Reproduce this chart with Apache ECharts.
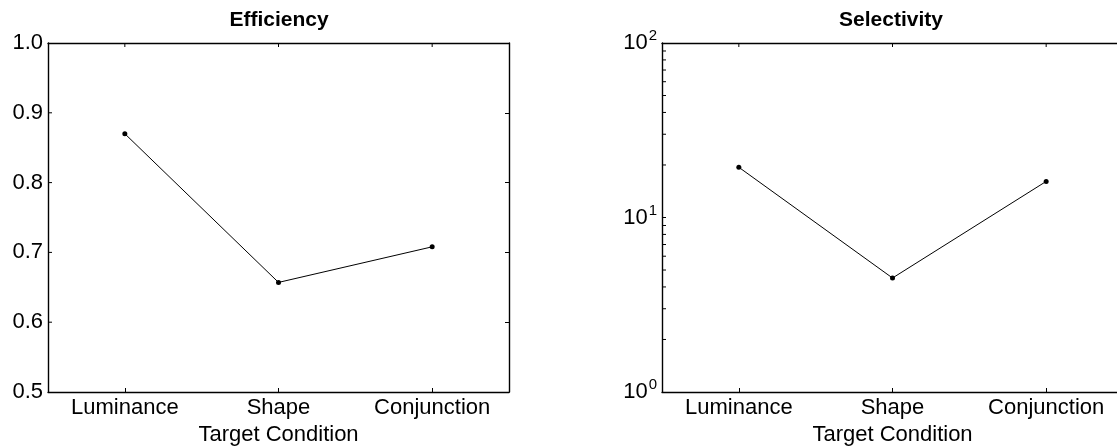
<!DOCTYPE html>
<html>
<head>
<meta charset="utf-8">
<script src="https://cdn.jsdelivr.net/npm/echarts@6/dist/echarts.min.js"></script>
<style>
  html, body { margin: 0; padding: 0; background: #fff; }
  #chart { width: 1117px; height: 448px; }
</style>
</head>
<body>
<div id="chart"></div>
<script>
// Target conditions shared by both panels
const conditions = ['Luminance', 'Shape', 'Conjunction'];
// Search efficiency per condition
const efficiency = [0.870, 0.657, 0.708];
// Selectivity per condition (log scale)
const selectivity = [19.4, 4.5, 16.1];
// Efficiency axis range and tick values
const effMin = 0.5, effMax = 1.0, effStep = 0.1;
const effTicks = [0.6, 0.7, 0.8, 0.9];
// Selectivity axis range and all tick positions (decades plus minor ticks)
const selMin = 1, selMax = 100;
const selTicks = [2, 3, 4, 5, 6, 7, 8, 9, 10, 20, 30, 40, 50, 60, 70, 80, 90];

const FONT = '"Liberation Sans", Arial, sans-serif';
const ink = '#000';
const frame = { color: ink, width: 1.4 };
const tickStyle = { color: ink, width: 1 };
const LABEL_SIZE = 22;
const TICK = 4;

const chart = echarts.init(document.getElementById('chart'), null, { renderer: 'canvas' });

function catAxis(gridIndex, pos, withLabels) {
  return {
    type: 'category', gridIndex, position: pos, data: conditions,
    boundaryGap: true,
    axisLine: { show: true, onZero: false, lineStyle: frame },
    axisTick: { show: pos === 'bottom', inside: true, length: TICK, alignWithLabel: true, lineStyle: tickStyle },
    axisLabel: { show: withLabels, color: ink, fontFamily: FONT, fontSize: LABEL_SIZE, margin: 5 },
    splitLine: { show: false },
    name: withLabels ? 'Target Condition' : '',
    nameLocation: 'middle', nameGap: 29,
    nameTextStyle: { color: ink, fontFamily: FONT, fontSize: LABEL_SIZE }
  };
}

function logAxis(pos, withLabels) {
  return {
    type: 'log', logBase: 10, gridIndex: 1, position: pos, min: selMin, max: selMax,
    axisLine: { show: true, onZero: false, lineStyle: frame },
    axisTick: { show: pos === 'right', inside: true, length: TICK, lineStyle: tickStyle, customValues: selTicks },
    axisLabel: withLabels ? {
      color: ink, fontFamily: FONT, fontSize: LABEL_SIZE, margin: 5,
      formatter: v => '10{sup|' + Math.round(Math.log10(v)) + '}',
      rich: { sup: { fontFamily: FONT, fontSize: 15, color: ink, padding: [0, 0, 14, 1] } }
    } : { show: false },
    splitLine: { show: false }
  };
}

function effAxis(pos, withLabels) {
  return {
    type: 'value', gridIndex: 0, position: pos, min: effMin, max: effMax, interval: effStep,
    axisLine: { show: true, onZero: false, lineStyle: frame },
    axisTick: { show: pos === 'right', inside: true, length: TICK, lineStyle: tickStyle },
    axisLabel: withLabels ? { color: ink, fontFamily: FONT, fontSize: LABEL_SIZE, margin: 5,
      formatter: v => v.toFixed(1) } : { show: false },
    splitLine: { show: false }
  };
}

// Inward ticks along the left edge of a panel, placed through the y scale
function leftTickSeries(xIdx, yIdx, values) {
  return {
    type: 'custom', xAxisIndex: xIdx, yAxisIndex: yIdx, silent: true, clip: false, z: 5,
    data: values.map(v => [0, v]),
    renderItem(params, api) {
      const y = api.coord([0, api.value(1)])[1];
      const x = params.coordSys.x;
      return { type: 'line', shape: { x1: x, y1: y, x2: x + TICK, y2: y },
        style: { stroke: ink, lineWidth: 1 } };
    }
  };
}

// Inward ticks along the top edge of a panel, placed through the category scale
function topTickSeries(xIdx, yIdx, yTop) {
  return {
    type: 'custom', xAxisIndex: xIdx, yAxisIndex: yIdx, silent: true, clip: false, z: 5,
    data: conditions.map((c, i) => [i, yTop]),
    renderItem(params, api) {
      const x = api.coord([api.value(0), api.value(1)])[0];
      const y = params.coordSys.y;
      return { type: 'line', shape: { x1: x, y1: y, x2: x, y2: y + TICK },
        style: { stroke: ink, lineWidth: 1 } };
    }
  };
}

const option = {
  animation: false,
  backgroundColor: '#fff',
  title: [
    { text: 'Efficiency', left: 274, top: 5, textAlign: 'center',
      textStyle: { fontFamily: FONT, fontSize: 21, fontWeight: 'bold', color: ink } },
    { text: 'Selectivity', left: 886, top: 5, textAlign: 'center',
      textStyle: { fontFamily: FONT, fontSize: 21, fontWeight: 'bold', color: ink } }
  ],
  grid: [
    { left: 48, right: 608, top: 43, bottom: 56, containLabel: false, outerBoundsMode: 'none' },
    { left: 662, right: -6, top: 43, bottom: 56, containLabel: false, outerBoundsMode: 'none' }
  ],
  xAxis: [
    catAxis(0, 'bottom', true),
    catAxis(0, 'top', false),
    catAxis(1, 'bottom', true),
    catAxis(1, 'top', false)
  ],
  yAxis: [
    effAxis('left', true),
    effAxis('right', false),
    logAxis('left', true),
    logAxis('right', false)
  ],
  series: [
    { type: 'line', xAxisIndex: 0, yAxisIndex: 0, data: efficiency,
      symbol: 'circle', symbolSize: 5, itemStyle: { color: ink },
      lineStyle: { color: ink, width: 1 }, silent: true },
    { type: 'line', xAxisIndex: 2, yAxisIndex: 2, data: selectivity,
      symbol: 'circle', symbolSize: 5, itemStyle: { color: ink },
      lineStyle: { color: ink, width: 1 }, silent: true },
    leftTickSeries(0, 0, effTicks),
    topTickSeries(0, 0, effMax),
    leftTickSeries(2, 2, selTicks),
    topTickSeries(2, 2, selMax)
  ]
};

chart.setOption(option);
</script>
</body>
</html>
